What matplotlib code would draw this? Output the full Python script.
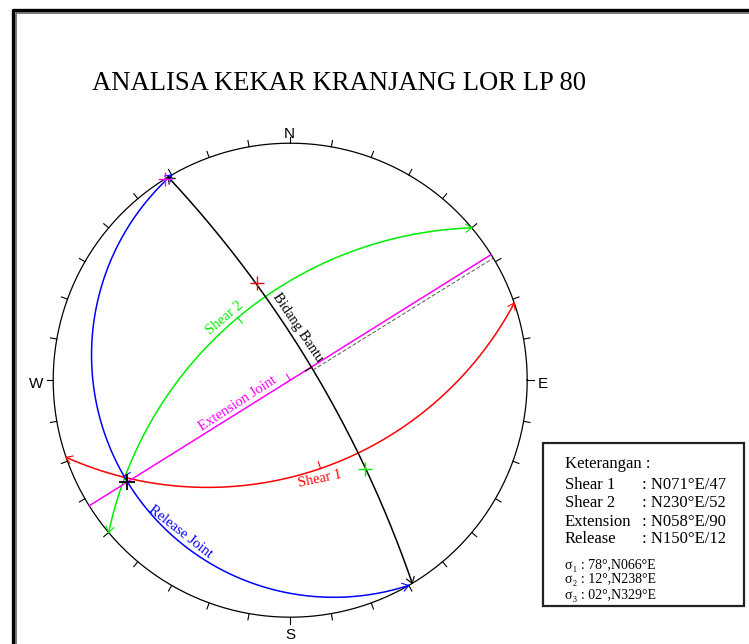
import numpy as np
import matplotlib
matplotlib.use("Agg")
import matplotlib.pyplot as plt
from matplotlib.lines import Line2D
from matplotlib.patches import Rectangle

plt.rcParams['mathtext.fontset'] = 'stix'

# ---------------- data ----------------
title = "ANALISA KEKAR KRANJANG LOR LP 80"
plane_names = ["Shear 1", "Shear 2", "Extension Joint", "Release Joint", "Bidang Bantu"]
plane_strikes = [71, 230, 58, 150, 329]
plane_dips = [47, 52, 90, 12, 78]
plane_colors = ["#ff0000", "#00ee00", "#ff00ff", "#0000ff", "#000000"]
plane_end_marks = [True, True, False, True, True]
pole_plane_idx = [0, 1, 2]          # planes whose poles are plotted as "+"
sigma_labels = ["σ1", "σ2", "σ3"]
sigma_plunges = [78, 12, 2]
sigma_trends = [66, 238, 329]
sigma_marked = [1]                  # sigma plotted as black "+"
dashed_end_trend = 59               # dashed trace from sigma1 to primitive
legend_names = ["Shear 1", "Shear 2", "Extension", "Release"]
legend_values = [": N071°E/47", ": N230°E/52", ": N058°E/90", ": N150°E/12"]
sigma_texts = ["σ₁ : 78°,N066°E", "σ₂ : 12°,N238°E", "σ₃ : 02°,N329°E"]

# label placement (data coords of stereonet, rotation)
label_pos = [(0.125, -0.418, 12), (-0.278, 0.262, 40), (-0.222, -0.100, 33),
             (-0.462, -0.640, -38), (0.030, 0.222, -56)]

# ---------------- helpers ----------------
def proj(trend, plunge):
    t = np.radians(trend)
    r = np.tan(np.radians(90 - np.asarray(plunge)) / 2.0)
    return r * np.sin(t), r * np.cos(t)

def great_circle(strike, dip, n=361):
    a = np.linspace(0, np.pi, n)
    s = np.radians(strike)
    d = np.radians(dip)
    dd = s + np.pi / 2
    S = np.array([np.sin(s), np.cos(s), 0.0])
    D = np.array([np.cos(d) * np.sin(dd), np.cos(d) * np.cos(dd), -np.sin(d)])
    L = np.outer(np.cos(a), S) + np.outer(np.sin(a), D)
    trend = np.degrees(np.arctan2(L[:, 0], L[:, 1]))
    plunge = np.degrees(np.arcsin(np.clip(-L[:, 2], 0, 1)))
    return proj(trend, plunge)

# ---------------- figure ----------------
W, H = 749, 644
fig = plt.figure(figsize=(W / 100, H / 100), dpi=100)
cx, cy, R = 290.2, 380.2, 237.0
ext = 1.1
half = ext * R
ax = fig.add_axes([(cx - half) / W, (H - cy - half) / H, 2 * half / W, 2 * half / H])
ax.set_xlim(-ext, ext)
ax.set_ylim(-ext, ext)
ax.axis('off')

# primitive circle + ticks
th = np.linspace(0, 2 * np.pi, 721)
ax.plot(np.cos(th), np.sin(th), color='black', lw=0.9)
for az in range(0, 360, 10):
    t = np.radians(az)
    ax.plot([np.sin(t), 1.027 * np.sin(t)], [np.cos(t), 1.027 * np.cos(t)], color='black', lw=0.8)

sans = ['Liberation Sans', 'DejaVu Sans']
serif = ['Liberation Serif', 'DejaVu Serif']
for lab, (x, y) in zip(["N", "E", "S", "W"], [(-0.004, 1.040), (1.067, -0.016), (0.0, -1.075), (-1.074, -0.016)]):
    ax.text(x, y, lab, family=sans, fontsize=11, ha='center', va='center', clip_on=False)

# great circles
for i, (nm, st, dp, col) in enumerate(zip(plane_names, plane_strikes, plane_dips, plane_colors)):
    x, y = great_circle(st, dp)
    ax.plot(x, y, color=col, lw=1.1, solid_capstyle='round')
    # tick at dip-direction point
    px, py = proj(st + 90, dp)
    t = np.radians(st + 90)
    ax.plot([px, px - 0.03 * np.sin(t)], [py, py - 0.03 * np.cos(t)], color=col, lw=0.8)
    # end marks
    if plane_end_marks[i]:
        for (ex, ey, bx, by) in [(x[0], y[0], x[3], y[3]), (x[-1], y[-1], x[-4], y[-4])]:
            ang = np.arctan2(by - ey, bx - ex)
            for s in (-0.6, 0.6):
                ax.plot([ex, ex + 0.03 * np.cos(ang + s)], [ey, ey + 0.03 * np.sin(ang + s)], color=col, lw=0.8)
    lx, ly, rot = label_pos[i]
    ax.text(lx, ly, nm, color=col, family=serif, fontsize=10.5, rotation=rot,
            rotation_mode='anchor', ha='center', va='center')

# poles
for i in pole_plane_idx:
    px, py = proj(plane_strikes[i] + 90 + 180, 90 - plane_dips[i])
    ax.plot(px, py, marker='+', ms=10, mew=1.0, color=plane_colors[i], clip_on=False)

# sigma markers
for k in sigma_marked:
    px, py = proj(sigma_trends[k], sigma_plunges[k])
    ax.plot(px, py, marker='+', ms=11, mew=1.3, color='black')

# dashed trace
s1x, s1y = proj(sigma_trends[0], sigma_plunges[0])
ex, ey = proj(dashed_end_trend, 0)
ax.plot([s1x, ex], [s1y, ey], color='#555555', lw=0.7, ls=(0, (4, 2)))

# title
fig.text(338.5 / W, 1 - 83 / H, title, family=serif, fontsize=19.2, ha='center', va='center')

# frame
def fx(p): return p / W
def fy(p): return 1 - p / H
fig.add_artist(Line2D([fx(12.5), fx(12.5), fx(W)], [fy(H), fy(9.5), fy(9.5)], color='black', lw=2.4))
fig.add_artist(Line2D([fx(16), fx(16), fx(W)], [fy(H), fy(13), fy(13)], color='#555555', lw=1.1))

# legend box
fig.add_artist(Rectangle((fx(543), fy(606)), (744 - 543) / W, (606 - 443) / H,
                         transform=fig.transFigure, fill=False, edgecolor='#222222', lw=1.6))
fig.text(fx(565), fy(464), "Keterangan :", family=serif, fontsize=12, ha='left', va='center')
for nm, val, yy in zip(legend_names, legend_values, [485, 502.7, 521.7, 539.3]):
    fig.text(fx(565), fy(yy), nm, family=serif, fontsize=12, ha='left', va='center')
    fig.text(fx(642), fy(yy), val, family=serif, fontsize=12, ha='left', va='center')
for st_, yy in zip(sigma_texts, [565, 580, 595]):
    fig.text(fx(565), fy(yy), st_, family=serif, fontsize=10, ha='left', va='center')

fig.savefig("out.png", dpi=100)
